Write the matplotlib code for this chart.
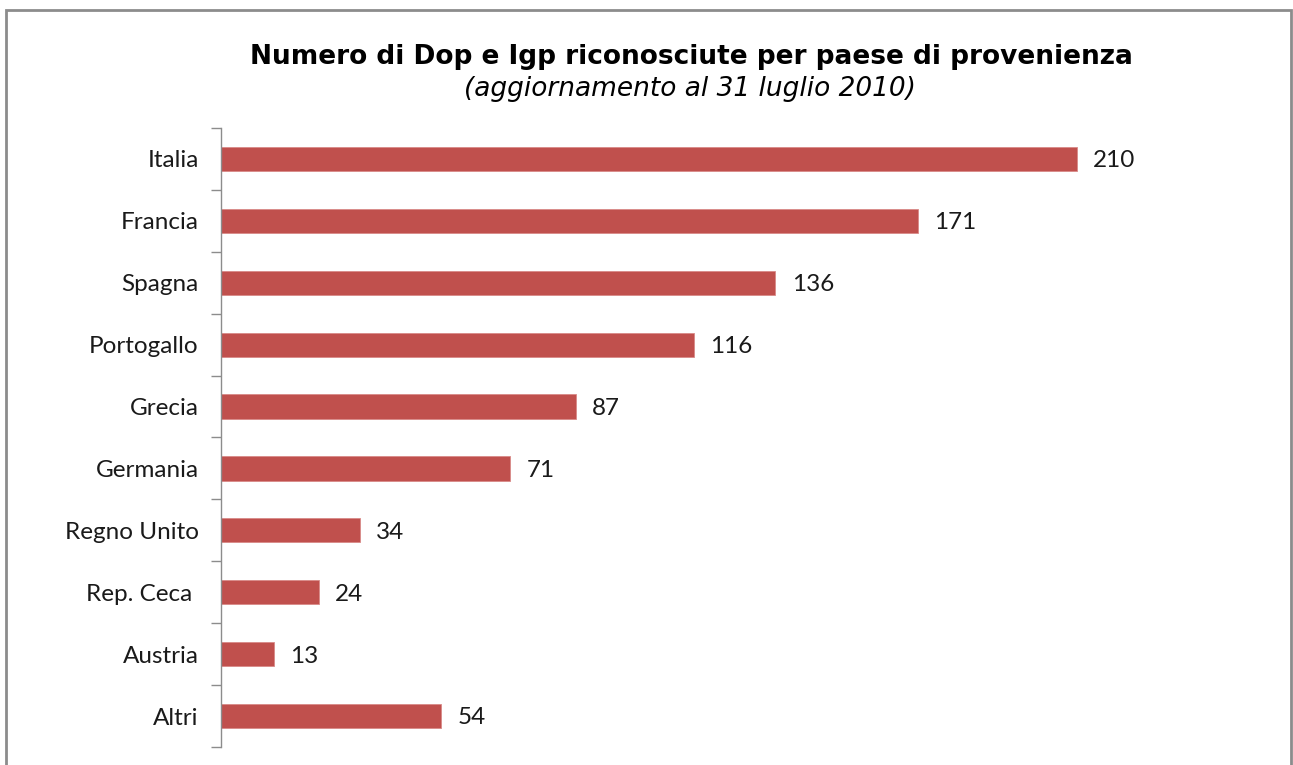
import matplotlib
matplotlib.use('Agg')
import matplotlib.pyplot as plt
from matplotlib.patches import Rectangle

paesi  = ['Italia', 'Francia', 'Spagna', 'Portogallo', 'Grecia',
          'Germania', 'Regno Unito', 'Rep. Ceca ', 'Austria', 'Altri']
valori = [210, 171, 136, 116, 87, 71, 34, 24, 13, 54]

W, H = 1293, 765
fig = plt.figure(figsize=(W / 100, H / 100), dpi=100)

# outer frame (bottom edge falls outside the picture)
fig.patches.append(Rectangle((6 / W, -0.02), (1291 - 6) / W, 1 - 10 / H + 0.02,
                             transform=fig.transFigure, fill=False,
                             edgecolor='#8c8c8c', linewidth=2))

ax = fig.add_axes([221 / W, 1 - 747 / H, (1240 - 221) / W, (747 - 128) / H])

y = list(range(len(paesi)))
ax.barh(y, valori, height=0.39, color='#C0504D', edgecolor='#D98A88', linewidth=0.6)

for yi, v in zip(y, valori):
    ax.text(v + 4, yi + 0.03, str(v), va='center', ha='left', fontsize=17.5,
            family='Lato', color='#1a1a1a')

ax.set_xlim(0, 250)
ax.set_ylim(len(paesi) - 0.5, -0.5)
ax.set_yticks([i - 0.5 for i in range(len(paesi) + 1)])
ax.set_yticklabels([])
ax.set_yticks(y, minor=True)
ax.set_yticklabels(paesi, minor=True, fontsize=17.5, family='Lato', color='#1a1a1a')
ax.tick_params(axis='y', which='major', length=7, color='#8c8c8c', width=1)
ax.tick_params(axis='y', which='minor', length=0, pad=16)
ax.set_xticks([])
for s in ['top', 'right', 'bottom']:
    ax.spines[s].set_visible(False)
ax.spines['left'].set_color('#8c8c8c')
ax.spines['left'].set_linewidth(1)

fig.text(691 / W, 1 - 57 / H, 'Numero di Dop e Igp riconosciute per paese di provenienza',
         ha='center', va='center', fontsize=19, fontweight='bold', color='black')
fig.text(690 / W, 1 - 89 / H, '(aggiornamento al 31 luglio 2010)',
         ha='center', va='center', fontsize=19, style='italic', color='black')

fig.savefig('out.png', dpi=100, facecolor='white')
